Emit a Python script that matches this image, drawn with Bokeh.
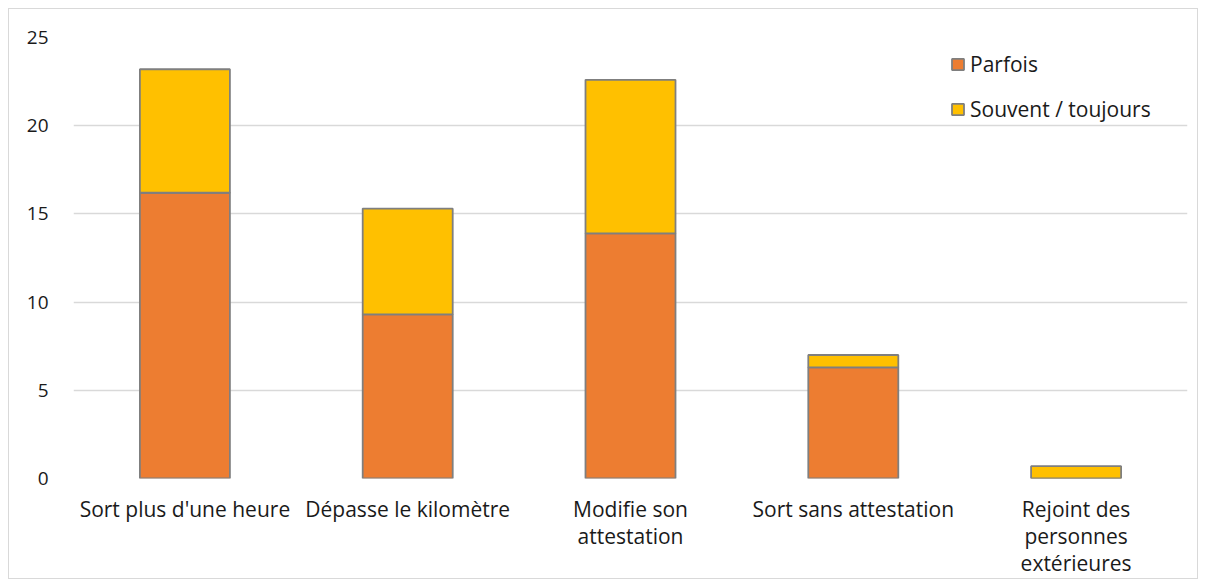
from bokeh.plotting import figure
from bokeh.models import ColumnDataSource, FactorRange, Range1d, SingleIntervalTicker, Legend, LegendItem
from bokeh.embed import file_html
from bokeh.resources import INLINE

categories = ["Sort plus d'une heure", "Dépasse le kilomètre", "Modifie son\nattestation",
              "Sort sans attestation", "Rejoint des\npersonnes\nextérieures"]
parfois = [16.2, 9.3, 13.9, 6.3, 0.0]
souvent = [7.0, 6.0, 8.7, 0.7, 0.7]
series = ["Parfois", "Souvent / toujours"]
colors = ["#ED7D31", "#FFC000"]

src = ColumnDataSource(dict(cat=categories, Parfois=parfois, **{"Souvent / toujours": souvent}))

FONT = "Open Sans"

p = figure(x_range=FactorRange(*categories), y_range=Range1d(0, 25),
           width=1190, height=571, output_backend="svg", toolbar_location=None,
           min_border_left=64, min_border_right=12, min_border_top=28, min_border_bottom=100)
p.styles = {"border": "1px solid #d9d9d9", "margin": "8px 0 0 8px"}
p.outline_line_color = None

rs = p.vbar_stack(series, x="cat", width=0.404, source=src, fill_color=colors,
                  line_color="#7f7f7f", line_width=1.8)

p.xgrid.grid_line_color = None
p.ygrid.grid_line_color = "#d9d9d9"
p.ygrid.grid_line_width = 1.5
p.yaxis.ticker = SingleIntervalTicker(interval=5)
for ax in (p.xaxis, p.yaxis):
    ax.axis_line_color = None
    ax.major_tick_line_color = None
    ax.minor_tick_line_color = None
    ax.major_label_text_font = FONT
    ax.major_label_text_color = "#1a1a1a"
p.yaxis.major_label_text_font_size = "19px"
p.yaxis.major_label_standoff = 19
p.xaxis.major_label_text_font_size = "21px"
p.xaxis.major_label_text_line_height = 0.98
p.xaxis.major_label_standoff = 10

legend = Legend(items=[LegendItem(label=s, renderers=[r]) for s, r in zip(series, rs)],
                location=(877, 355), orientation="vertical",
                label_text_font=FONT, label_text_font_size="21px", label_text_color="#1a1a1a",
                glyph_width=15, glyph_height=14, label_height=24, spacing=17,
                padding=0, margin=0, border_line_color=None, background_fill_alpha=0,
                label_standoff=5)
p.add_layout(legend)

open("out.html", "w").write(file_html(p, INLINE))
